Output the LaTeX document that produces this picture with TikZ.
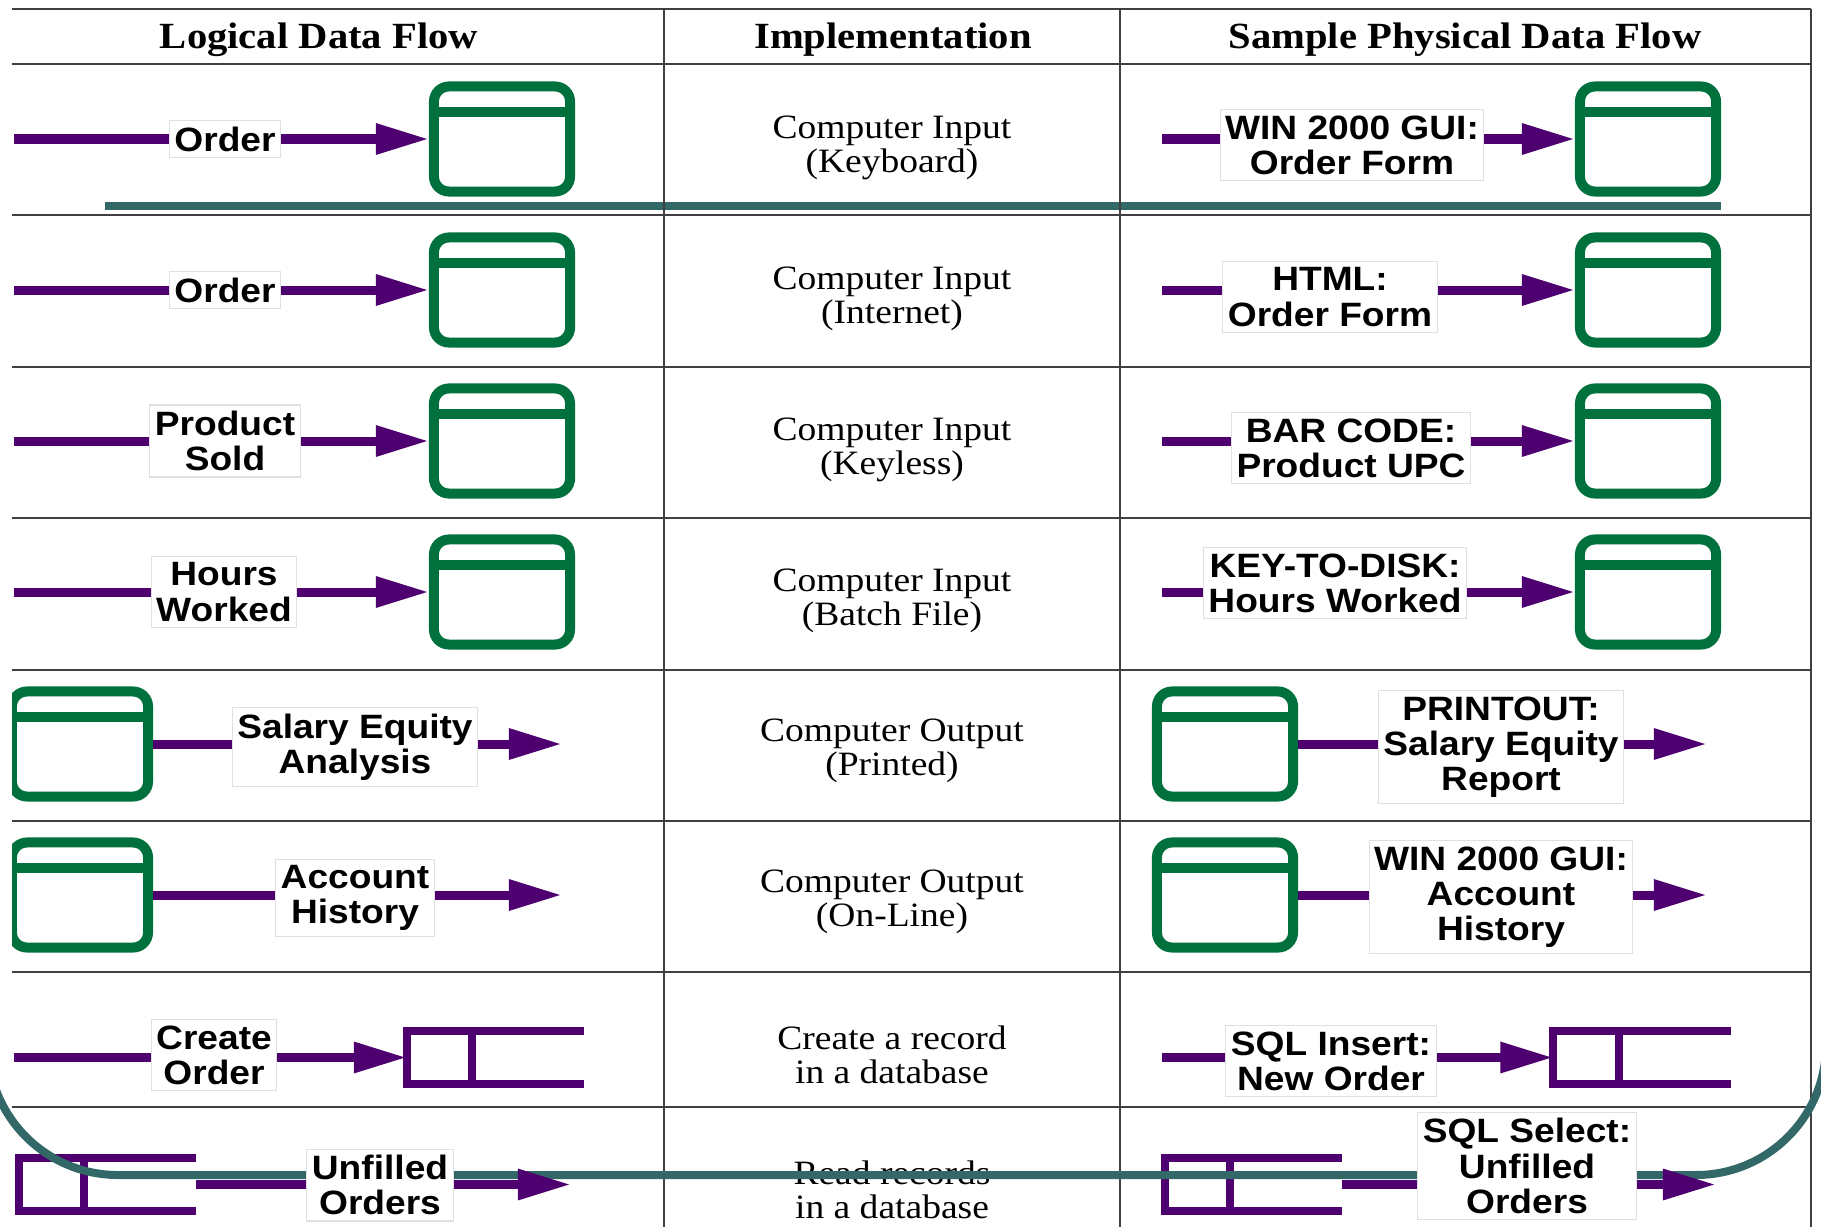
\documentclass[tikz,border=0pt]{standalone}
\usepackage{fontspec}
\setmainfont{Liberation Serif}[FakeStretch=1.1]
\setsansfont{Liberation Sans}[FakeStretch=1.1]
\usepackage{xcolor}
\usetikzlibrary{arrows.meta}
\definecolor{flowpurple}{RGB}{78,0,112}
\definecolor{screengreen}{RGB}{0,112,60}
\definecolor{slideteal}{RGB}{51,104,104}
\tikzstyle{head} = [font=\bfseries\fontsize{10.5}{12}\selectfont, 
inner sep=0pt]
\tikzstyle{impl} = [font=\fontsize{9.7}{9.6}\selectfont, 
align=center, 
inner sep=0pt]
\tikzstyle{flowtext} = [font=\sffamily\bfseries\fontsize{9.6}{10}\selectfont, 
align=center, 
draw=black!12, 
fill=white, 
line width=0.3pt, 
inner xsep=0.5mm, 
inner ysep=0.6mm]
\tikzstyle{screen} = [rectangle, 
draw=screengreen, 
line width=1mm, 
rounded corners=1.5mm, 
minimum width=1.36cm, 
minimum height=1.05cm, 
inner sep=0pt, 
path picture={\draw[screengreen, line width=1mm] ([yshift=-2.6mm]path picture bounding box.north west) -- ([yshift=-2.6mm]path picture bounding box.north east);}]
\tikzstyle{store} = [rectangle, 
minimum width=1.77cm, 
minimum height=0.53cm, 
inner sep=0pt, 
outer sep=0pt]
\tikzstyle{storeline} = [draw=flowpurple, line width=0.8mm]
\tikzstyle{flow} = [draw=flowpurple, line width=0.9mm]
\tikzstyle{arrow} = [flow, -{Triangle[length=5.3mm, width=2.9mm]}]
\tikzstyle{tableline} = [draw=black!75, line width=0.8pt]
\tikzstyle{slideline} = [draw=slideteal, line width=0.8mm]

\begin{document}
\begin{tikzpicture}[x=0.01cm, y=-0.01cm]
\useasboundingbox (0,0) rectangle (1821,1227);
\fill[white] (0,0) rectangle (1821,1227);

% slide frame, top bar
\draw [slideline] (105,206) -- (1721,206);

\begin{scope}
\clip (12,0) rectangle (1821,1227);

% table
\draw [tableline] (12,9) -- (1811,9);
\draw [tableline] (12,64) -- (1811,64);
\draw [tableline] (12,215) -- (1811,215);
\draw [tableline] (12,367) -- (1811,367);
\draw [tableline] (12,518) -- (1811,518);
\draw [tableline] (12,670) -- (1811,670);
\draw [tableline] (12,821) -- (1811,821);
\draw [tableline] (12,972) -- (1811,972);
\draw [tableline] (12,1107) -- (1811,1107);
\draw [tableline] (664,9) -- (664,1227);
\draw [tableline] (1120,9) -- (1120,1227);
\draw [tableline] (1811,9) -- (1811,1227);

\node (hlog) [head] at (319,40) {Logical Data Flow};
\node (himp) [head] at (893,40) {Implementation};
\node (hphy) [head] at (1465,40) {Sample Physical Data Flow};

\node (imp1) [impl] at (892,148) {Computer Input\\(Keyboard)};
\node (imp2) [impl] at (892,299) {Computer Input\\(Internet)};
\node (imp3) [impl] at (892,450) {Computer Input\\(Keyless)};
\node (imp4) [impl] at (892,601) {Computer Input\\(Batch File)};
\node (imp5) [impl] at (892,751) {Computer Output\\(Printed)};
\node (imp6) [impl] at (892,902) {Computer Output\\(On-Line)};
\node (imp7) [impl] at (892,1055) {Create a record\\in a database};
\node (imp8) [impl] at (892,1190) {Read records\\in a database};

% shapes
\node (lscr1) [screen] at (502,139) {};
\node (lscr2) [screen] at (502,290) {};
\node (lscr3) [screen] at (502,441) {};
\node (lscr4) [screen] at (502,592) {};
\node (lscr5) [screen] at (80,744) {};
\node (lscr6) [screen] at (80,895) {};
\node (lst7) [store] at (495.5,1057.5) {};
\node (lst8) [store] at (107.5,1184.5) {};

\node (rscr1) [screen] at (1648,139) {};
\node (rscr2) [screen] at (1648,290) {};
\node (rscr3) [screen] at (1648,441) {};
\node (rscr4) [screen] at (1648,592) {};
\node (rscr5) [screen] at (1225,744) {};
\node (rscr6) [screen] at (1225,895) {};
\node (rst7) [store] at (1642,1057.5) {};
\node (rst8) [store] at (1253.5,1184.5) {};

\draw [storeline] (lst7.north east) -- (lst7.north west) -- (lst7.south west) -- (lst7.south east);
\draw [storeline] ([xshift=6.5mm]lst7.north west) -- ([xshift=6.5mm]lst7.south west);
\draw [storeline] (lst8.north east) -- (lst8.north west) -- (lst8.south west) -- (lst8.south east);
\draw [storeline] ([xshift=6.5mm]lst8.north west) -- ([xshift=6.5mm]lst8.south west);
\draw [storeline] (rst7.north east) -- (rst7.north west) -- (rst7.south west) -- (rst7.south east);
\draw [storeline] ([xshift=6.5mm]rst7.north west) -- ([xshift=6.5mm]rst7.south west);
\draw [storeline] (rst8.north east) -- (rst8.north west) -- (rst8.south west) -- (rst8.south east);
\draw [storeline] ([xshift=6.5mm]rst8.north west) -- ([xshift=6.5mm]rst8.south west);
\end{scope}

% slide frame, bottom
\draw [slideline, rounded corners=1.3cm] (-12,800) |- (1826,1175) -- (1826,800);

\begin{scope}
\clip (12,0) rectangle (1821,1227);

% logical side
\node (ll1) [flowtext] at (225,139) {Order};
\node (ll2) [flowtext] at (225,290) {Order};
\node (ll3) [flowtext] at (225,441) {Product\\Sold};
\node (ll4) [flowtext] at (224,592) {Hours\\Worked};
\node (ll5) [flowtext] at (355,747) {Salary Equity\\Analysis};
\node (ll6) [flowtext] at (355,898) {Account\\History};
\node (ll7) [flowtext] at (214,1055) {Create\\Order};
\node (ll8) [flowtext] at (380,1185) {Unfilled\\Orders};

\coordinate (in1) at (14,139);
\coordinate (in2) at (14,290);
\coordinate (in3) at (14,441);
\coordinate (in4) at (14,592);
\coordinate (in7) at (14,1057.5);
\coordinate (out5) at (562,744);
\coordinate (out6) at (562,895);
\coordinate (out8) at (571,1184.5);

\draw [flow] (in1) -- (in1 -| ll1.west);
\draw [arrow] (ll1.east |- in1) -- (lscr1.west);
\draw [flow] (in2) -- (in2 -| ll2.west);
\draw [arrow] (ll2.east |- in2) -- (lscr2.west);
\draw [flow] (in3) -- (in3 -| ll3.west);
\draw [arrow] (ll3.east |- in3) -- (lscr3.west);
\draw [flow] (in4) -- (in4 -| ll4.west);
\draw [arrow] (ll4.east |- in4) -- (lscr4.west);
\draw [flow] (lscr5.east) -- (lscr5.east -| ll5.west);
\draw [arrow] (ll5.east |- out5) -- (out5);
\draw [flow] (lscr6.east) -- (lscr6.east -| ll6.west);
\draw [arrow] (ll6.east |- out6) -- (out6);
\draw [flow] (in7) -- (in7 -| ll7.west);
\draw [arrow] (ll7.east |- in7) -- (lst7.west);
\draw [flow] (lst8.east) -- (lst8.east -| ll8.west);
\draw [arrow] (ll8.east |- out8) -- (out8);

% physical side
\node (rl1) [flowtext] at (1352,145) {WIN 2000 GUI:\\Order Form};
\node (rl2) [flowtext] at (1330,297) {HTML:\\Order Form};
\node (rl3) [flowtext] at (1351,448) {BAR CODE:\\Product UPC};
\node (rl4) [flowtext] at (1335,583) {KEY-TO-DISK:\\Hours Worked};
\node (rl5) [flowtext] at (1501,747) {PRINTOUT:\\Salary Equity\\Report};
\node (rl6) [flowtext] at (1501,897) {WIN 2000 GUI:\\Account\\History};
\node (rl7) [flowtext] at (1331,1061) {SQL Insert:\\New Order};
\node (rl8) [flowtext] at (1527,1166) {SQL Select:\\Unfilled\\Orders};

\coordinate (rin1) at (1162,139);
\coordinate (rin2) at (1162,290);
\coordinate (rin3) at (1162,441);
\coordinate (rin4) at (1162,592);
\coordinate (rin7) at (1162,1057.5);
\coordinate (rout5) at (1707,744);
\coordinate (rout6) at (1707,895);
\coordinate (rout8) at (1716,1184.5);

\draw [flow] (rin1) -- (rin1 -| rl1.west);
\draw [arrow] (rl1.east |- rin1) -- (rscr1.west);
\draw [flow] (rin2) -- (rin2 -| rl2.west);
\draw [arrow] (rl2.east |- rin2) -- (rscr2.west);
\draw [flow] (rin3) -- (rin3 -| rl3.west);
\draw [arrow] (rl3.east |- rin3) -- (rscr3.west);
\draw [flow] (rin4) -- (rin4 -| rl4.west);
\draw [arrow] (rl4.east |- rin4) -- (rscr4.west);
\draw [flow] (rscr5.east) -- (rscr5.east -| rl5.west);
\draw [arrow] (rl5.east |- rout5) -- (rout5);
\draw [flow] (rscr6.east) -- (rscr6.east -| rl6.west);
\draw [arrow] (rl6.east |- rout6) -- (rout6);
\draw [flow] (rin7) -- (rin7 -| rl7.west);
\draw [arrow] (rl7.east |- rin7) -- (rst7.west);
\draw [flow] (rst8.east) -- (rst8.east -| rl8.west);
\draw [arrow] (rl8.east |- rout8) -- (rout8);
\end{scope}

\end{tikzpicture}
\end{document}
